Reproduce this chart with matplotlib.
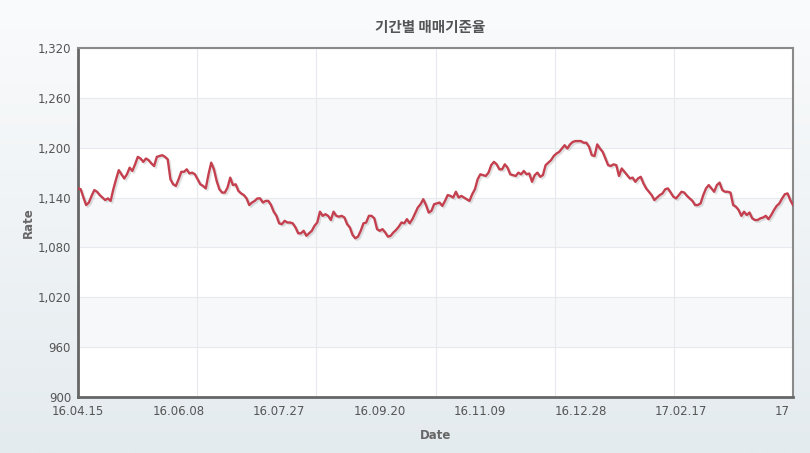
import numpy as np
import matplotlib
matplotlib.use("Agg")
import matplotlib.pyplot as plt
import matplotlib.patheffects as pe
from matplotlib.ticker import FuncFormatter, FixedLocator

plt.rcParams['font.family'] = ['DejaVu Sans', 'Noto Sans CJK KR']

# 매매기준율 (일별), 그림에서 읽은 값
rate_apr_jun = [1151, 1150, 1140, 1131, 1134, 1142, 1149, 1147, 1143, 1140, 1137, 1139,
                1136, 1150, 1162, 1173, 1168, 1163, 1168, 1176, 1172, 1180, 1189, 1187,
                1183, 1187, 1185, 1181, 1178, 1189, 1190, 1191, 1189, 1186, 1162, 1156,
                1154, 1162, 1171, 1171, 1174, 1169]
rate_jun_aug = [1170, 1168, 1162, 1156, 1154, 1151, 1168, 1182, 1174, 1160, 1150, 1146,
                1146, 1152, 1164, 1155, 1156, 1148, 1145, 1143, 1139, 1131, 1134, 1136,
                1139, 1139, 1134, 1136, 1136, 1131, 1123, 1118, 1109, 1108, 1112, 1110,
                1110, 1109, 1104, 1097, 1097, 1100, 1094, 1097]
rate_aug_oct = [1100, 1106, 1110, 1123, 1118, 1120, 1118, 1113, 1123, 1118, 1117, 1118,
                1116, 1108, 1104, 1095, 1091, 1093, 1100, 1109, 1110, 1118, 1118, 1115,
                1102, 1100, 1102, 1098, 1093, 1094, 1098, 1101, 1105, 1110, 1109, 1114,
                1109, 1114, 1121, 1128, 1132, 1138, 1131, 1122]
rate_oct_dec = [1124, 1132, 1133, 1134, 1130, 1136, 1143, 1142, 1140, 1147, 1140, 1142,
                1140, 1138, 1136, 1144, 1150, 1162, 1168, 1167, 1166, 1170, 1179, 1183,
                1180, 1174, 1174, 1180, 1176, 1168, 1167, 1166, 1170, 1168, 1172, 1168]
rate_dec_mar = [1169, 1159, 1167, 1170, 1165, 1167, 1179, 1182, 1185, 1190, 1193, 1195,
                1199, 1203, 1199, 1204, 1207, 1208, 1208, 1208, 1206, 1206, 1201, 1191,
                1190, 1204, 1199, 1195, 1187, 1179, 1178, 1180, 1179, 1166, 1175, 1171,
                1167, 1163, 1164, 1159, 1163, 1165, 1157, 1151, 1147, 1143, 1137, 1140,
                1143, 1145, 1150, 1151, 1146, 1141, 1139, 1143, 1147, 1146, 1142, 1139,
                1136, 1131, 1131, 1133, 1143, 1151, 1155, 1151, 1147, 1155, 1158, 1149,
                1147, 1147, 1146, 1131, 1129, 1125, 1118, 1123, 1119, 1122, 1115, 1113,
                1113, 1115, 1116, 1118, 1114, 1119, 1125, 1130, 1133, 1139, 1144, 1145,
                1137, 1131]

rate = rate_apr_jun + rate_jun_aug + rate_aug_oct + rate_oct_dec + rate_dec_mar
date_labels = ['16.04.15', '16.06.08', '16.07.27', '16.09.20', '16.11.09',
               '16.12.28', '17.02.17', '17']
y_ticks = [900, 960, 1020, 1080, 1140, 1200, 1260, 1320]

n = len(rate)
x = np.arange(n)

fig = plt.figure(figsize=(8.1, 4.53), dpi=100)

# 배경 그라데이션
bg = fig.add_axes([0, 0, 1, 1], zorder=-10)
grad = np.linspace(0, 1, 256).reshape(-1, 1)
top_c = np.array([0xfa, 0xfb, 0xfc]) / 255
bot_c = np.array([0xe4, 0xeb, 0xef]) / 255
img = top_c + (bot_c - top_c) * grad[:, :, None]
bg.imshow(img, aspect='auto', extent=[0, 1, 0, 1])
bg.axis('off')

ax = fig.add_axes([78 / 810, 1 - 397 / 453, 715 / 810, 349 / 453])
ax.set_facecolor('white')

# 교차 배경 띠
for i in range(1, len(y_ticks) - 1, 2):
    ax.axhspan(y_ticks[i], y_ticks[i + 1], color='#f6f8fa', zorder=0, lw=0)

ax.plot(x, rate, color='#c4404f', lw=1.7, zorder=3,
        path_effects=[pe.SimpleLineShadow(offset=(1.2, -1.2), shadow_color='#888888', alpha=0.25),
                      pe.Normal()])

ax.set_xlim(0, n - 1)
ax.set_ylim(900, 1320)
ax.set_yticks(y_ticks)
ax.yaxis.set_major_formatter(FuncFormatter(lambda v, p: f"{int(v):,}"))

# 세로 격자 (6등분)
ax.xaxis.set_major_locator(FixedLocator(np.linspace(0, n - 1, 7)))
ax.xaxis.set_major_formatter(FuncFormatter(lambda v, p: ''))
# 날짜 라벨
ax.xaxis.remove_overlapping_locs = False
step = (n - 1) * 100.5 / 715
label_pos = list(np.arange(7) * step) + [(n - 1) * 704 / 715]
ax.xaxis.set_minor_locator(FixedLocator(label_pos))
ax.set_xticklabels(date_labels, minor=True)

ax.grid(True, which='major', color='#e6eaef', lw=0.8, zorder=1)
ax.tick_params(axis='both', which='both', length=0, labelsize=8.5, labelcolor='#555555')
ax.tick_params(axis='y', pad=5)
ax.tick_params(axis='x', which='minor', pad=6)

for s in ax.spines.values():
    s.set_color('#8a8a8a')
    s.set_linewidth(1.5)
ax.spines['left'].set_color('#666666')
ax.spines['bottom'].set_color('#666666')
ax.spines['left'].set_linewidth(2)
ax.spines['bottom'].set_linewidth(2)

ax.set_ylabel('Rate', fontsize=8.5, fontweight='bold', color='#666666', labelpad=2)
ax.set_xlabel('Date', fontsize=8.5, fontweight='bold', color='#666666', labelpad=8)

fig.text(0.5 + 25 / 810, 1 - 27 / 453, '기간별 매매기준율', ha='center', va='center',
         fontsize=10.5, fontweight='bold', color='#555555',
         family=['Noto Sans CJK KR', 'DejaVu Sans'])

fig.savefig('out.png', dpi=100)
